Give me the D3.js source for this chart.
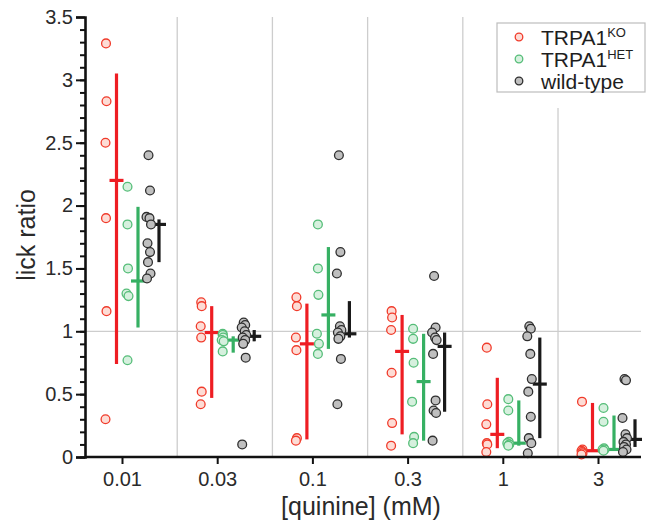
<!DOCTYPE html>
<html>
<head>
<meta charset="utf-8">
<script src="https://cdn.jsdelivr.net/npm/d3@7"></script>
<style>
  body { margin: 0; background: #fff; }
  svg { font-family: "Liberation Sans", Arial, sans-serif; }
</style>
</head>
<body>
<svg id="chart" width="649" height="527"></svg>
<script>
'use strict';

// quinine concentrations (mM)
const categories = ['0.01', '0.03', '0.1', '0.3', '1', '3'];

// individual lick ratios per concentration
const koPoints = [
    [3.29, 2.83, 2.50, 1.90, 1.16, 0.30],
    [1.23, 1.20, 1.04, 0.95, 0.52, 0.42],
    [1.27, 1.20, 0.95, 0.85, 0.15, 0.13],
    [1.16, 1.11, 1.01, 0.67, 0.27, 0.09],
    [0.87, 0.42, 0.26, 0.11, 0.10, 0.04],
    [0.44, 0.06, 0.05, 0.04, 0.03, 0.02]
];
const hetPoints = [
    [2.15, 1.85, 1.50, 1.30, 1.28, 0.77],
    [0.98, 0.97, 0.95, 0.93, 0.92, 0.84],
    [1.85, 1.50, 1.29, 0.98, 0.90, 0.82],
    [1.02, 0.94, 0.75, 0.44, 0.16, 0.11],
    [0.46, 0.37, 0.12, 0.11, 0.10, 0.09],
    [0.39, 0.28, 0.07, 0.06, 0.06, 0.05]
];
const wtPoints = [
    [2.40, 2.12, 1.91, 1.90, 1.85, 1.70, 1.63, 1.55, 1.46, 1.42],
    [1.07, 1.05, 1.03, 1.00, 0.97, 0.95, 0.93, 0.90, 0.79, 0.10],
    [2.40, 1.63, 1.46, 1.04, 1.01, 0.99, 0.96, 0.94, 0.78, 0.42],
    [1.44, 1.03, 0.99, 0.95, 0.93, 0.82, 0.45, 0.37, 0.35, 0.13],
    [1.04, 1.02, 0.96, 0.82, 0.62, 0.52, 0.32, 0.15, 0.11, 0.03],
    [0.62, 0.61, 0.31, 0.18, 0.15, 0.12, 0.10, 0.08, 0.06, 0.04]
];

// summary marker (centre) and error bar ends
const koCenter = [2.20, 0.99, 0.90, 0.84, 0.18, 0.05];
const koLow    = [0.74, 0.47, 0.14, 0.18, 0.07, 0.04];
const koHigh   = [3.05, 1.20, 1.22, 1.13, 0.63, 0.43];
const hetCenter = [1.40, 0.93, 1.13, 0.60, 0.11, 0.06];
const hetLow    = [1.03, 0.83, 0.86, 0.13, 0.09, 0.05];
const hetHigh   = [1.99, 0.96, 1.67, 0.98, 0.45, 0.33];
const wtCenter = [1.85, 0.96, 0.98, 0.88, 0.58, 0.14];
const wtLow    = [1.55, 0.92, 0.95, 0.36, 0.15, 0.08];
const wtHigh   = [1.89, 1.01, 1.24, 0.99, 0.95, 0.30];

const yTicks = [0, 0.5, 1, 1.5, 2, 2.5, 3, 3.5];

const series = [
    {name: 'TRPA1', sup: 'KO', points: koPoints, center: koCenter, low: koLow, high: koHigh,
     stroke: '#f03a2a', fill: '#fddcd5', line: '#ee1d23', ptOff: -16, barOff: -5.5, jitter: [0, 0.5, -0.5, 0, 0.5, -0.5]},
    {name: 'TRPA1', sup: 'HET', points: hetPoints, center: hetCenter, low: hetLow, high: hetHigh,
     stroke: '#55bd78', fill: '#d6f0de', line: '#36b063', ptOff: 5.5, barOff: 16, jitter: [0, 0, 0.5, -1, 1, 0]},
    {name: 'wild-type', sup: '', points: wtPoints, center: wtCenter, low: wtLow, high: wtHigh,
     stroke: '#2e2e2e', fill: '#bfbfbf', line: '#1a1a1a', ptOff: 26.5, barOff: 37, jitter: [0, 1.5, -2, 1, 2.5, -1, 1.5, -0.5, 2, -1.5]}
];

const plotLeft = 85, plotRight = 641, plotTop = 17, plotBottom = 457;

const svg = d3.select('#chart');

const x = d3.scalePoint()
    .domain(categories)
    .range([122, 598]);

const y = d3.scaleLinear()
    .domain([0, 3.5])
    .range([plotBottom, plotTop]);

const step = x.step();

// grid
const grid = svg.append('g').attr('class', 'grid');
grid.selectAll('line.v')
    .data(categories.slice(0, -1))
    .enter().append('line')
    .attr('class', 'v')
    .attr('x1', d => x(d) + step * 0.58)
    .attr('x2', d => x(d) + step * 0.58)
    .attr('y1', plotTop)
    .attr('y2', plotBottom)
    .attr('stroke', '#cdcdcd')
    .attr('stroke-width', 1.3);
grid.append('line')
    .attr('x1', plotLeft)
    .attr('x2', plotRight)
    .attr('y1', y(1))
    .attr('y2', y(1))
    .attr('stroke', '#cdcdcd')
    .attr('stroke-width', 1.3);

// data
const plot = svg.append('g').attr('class', 'plot');

series.forEach(s => {
    const g = plot.append('g');

    categories.forEach((c, i) => {
        const bx = x(c) + s.barOff;

        g.append('line')
            .attr('x1', bx).attr('x2', bx)
            .attr('y1', y(s.low[i])).attr('y2', y(s.high[i]))
            .attr('stroke', s.line)
            .attr('stroke-width', 3.2);
        g.append('line')
            .attr('x1', bx - 7).attr('x2', bx + 7)
            .attr('y1', y(s.center[i])).attr('y2', y(s.center[i]))
            .attr('stroke', s.line)
            .attr('stroke-width', 3.2);

        g.selectAll(null)
            .data(s.points[i])
            .enter().append('circle')
            .attr('cx', (d, k) => x(c) + s.ptOff + s.jitter[k % s.jitter.length])
            .attr('cy', d => y(d))
            .attr('r', 4.4)
            .attr('fill', s.fill)
            .attr('stroke', s.stroke)
            .attr('stroke-width', 1.3);
    });
});

// axes
const yAxis = svg.append('g')
    .attr('transform', `translate(${plotLeft},0)`)
    .call(d3.axisLeft(y).tickValues(yTicks).tickSize(9).tickPadding(3).tickFormat(d3.format('~g')));

svg.append('g')
    .attr('transform', `translate(${plotLeft},0)`)
    .call(d3.axisLeft(y).tickValues(d3.range(0, 35).map(d => d / 10)).tickSize(5).tickFormat(''))
    .call(g => g.select('.domain').remove())
    .selectAll('line').attr('stroke', '#111').attr('stroke-width', 2);

const xAxis = svg.append('g')
    .attr('transform', `translate(0,${plotBottom})`)
    .call(d3.axisBottom(x).tickSize(7).tickPadding(8).tickSizeOuter(0));

[yAxis, xAxis].forEach(a => {
    a.select('.domain')
        .attr('stroke', '#111')
        .attr('stroke-width', 2.6);
    a.selectAll('.tick line')
        .attr('stroke', '#111')
        .attr('stroke-width', 2);
    a.selectAll('.tick text')
        .attr('fill', '#2a2a2a')
        .attr('font-size', 20);
});

// domain of x axis runs from y axis to right edge
xAxis.select('.domain').attr('d', `M${plotLeft},0H${plotRight}`);

// axis labels
svg.append('text')
    .attr('transform', `translate(35,${(plotTop + plotBottom) / 2 - 2}) rotate(-90)`)
    .attr('text-anchor', 'middle')
    .attr('fill', '#2a2a2a')
    .attr('font-size', 25)
    .text('lick ratio');

svg.append('text')
    .attr('x', 361)
    .attr('y', 515)
    .attr('text-anchor', 'middle')
    .attr('fill', '#2a2a2a')
    .attr('font-size', 25)
    .text('[quinine] (mM)');

// legend
const legend = svg.append('g').attr('class', 'legend');
legend.append('rect')
    .attr('x', 492).attr('y', plotTop)
    .attr('width', 155).attr('height', 91)
    .attr('fill', '#fff');
legend.append('rect')
    .attr('x', 497).attr('y', 23)
    .attr('width', 148).attr('height', 69)
    .attr('fill', '#fff')
    .attr('stroke', '#bdbdbd')
    .attr('stroke-width', 1.2);

const entries = legend.selectAll('g.legend-entry')
    .data(series)
    .enter().append('g')
    .attr('class', 'legend-entry')
    .attr('transform', (d, i) => `translate(519,${37 + i * 22})`);

entries.append('circle')
    .attr('r', 3.8)
    .attr('fill', d => d.fill)
    .attr('stroke', d => d.stroke)
    .attr('stroke-width', 1.3);

const label = entries.append('text')
    .attr('x', 22)
    .attr('y', 7.5)
    .attr('fill', '#1e1e1e')
    .attr('font-size', 21);
label.append('tspan').text(d => d.name);
label.append('tspan')
    .attr('font-size', 13)
    .attr('dy', -8)
    .text(d => d.sup);
</script>
</body>
</html>
